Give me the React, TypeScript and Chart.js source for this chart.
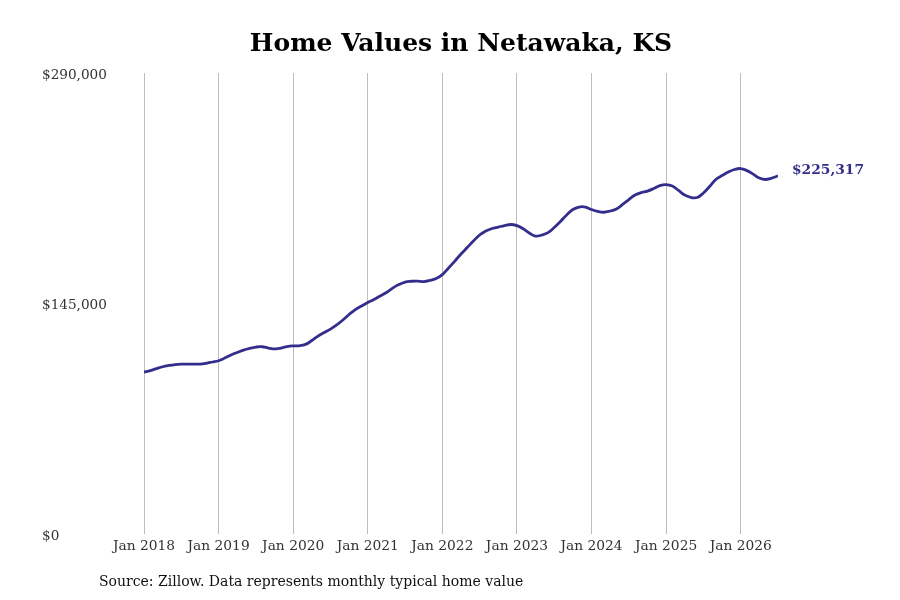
import React, { useEffect, useRef } from 'react';
import { Chart, registerables } from 'chart.js';

Chart.register(...registerables);

// monthly typical home value, Jan 2018 .. Jul 2026
const startYear = 2018;
const homeValues: number[] = [
  // 2018
  101900, 102800, 104000, 105200, 106000, 106600, 106900, 106900, 106900, 106900, 107400, 108200,
  // 2019
  109000, 110700, 112600, 114200, 115700, 116800, 117600, 117800, 117000, 116400, 117000, 117900,
  // 2020
  118300, 118400, 119300, 121700, 124500, 126700, 128900, 131500, 134600, 138100, 141200, 143400,
  // 2021
  145600, 147500, 149700, 151900, 154700, 156900, 158500, 159000, 159100, 158800, 159500, 160700,
  // 2022
  163200, 167300, 171700, 176100, 180200, 184300, 188100, 190600, 192200, 193100, 194000, 194700,
  // 2023
  194000, 192000, 189300, 187400, 188100, 189600, 192800, 196600, 200700, 204100, 205700, 205700,
  // 2024
  204100, 202900, 202400, 203200, 204400, 207300, 210400, 213200, 214800, 215700, 217300, 219200,
  // 2025
  219800, 218900, 216100, 213200, 211700, 211700, 214500, 218600, 223000, 225500, 227700, 229300,
  // 2026
  229900, 228600, 226400, 223900, 223000, 223900, 225317,
];
const yTicks: number[] = [0, 145000, 290000];

const lineColor = '#332e8c';
const serif = "'DejaVu Serif', serif";

const money = (v: number) => '$' + Math.round(v).toLocaleString('en-US');

// last value label + source note
const extrasPlugin = {
  id: 'extras',
  afterDatasetsDraw(chart: any) {
    const { ctx } = chart;
    const meta = chart.getDatasetMeta(0);
    const last = meta.data[meta.data.length - 1];
    ctx.save();
    ctx.font = `bold 13.8px ${serif}`;
    ctx.fillStyle = lineColor;
    ctx.textBaseline = 'middle';
    ctx.textAlign = 'left';
    ctx.fillText(money(homeValues[homeValues.length - 1]), last.x + 14, last.y - 5);
    ctx.font = `14px ${serif}`;
    ctx.fillStyle = '#111';
    ctx.fillText('Source: Zillow. Data represents monthly typical home value', 99, 582);
    ctx.restore();
  },
};

const App: React.FC = () => {
  const canvasRef = useRef<HTMLCanvasElement | null>(null);
  const chartRef = useRef<Chart | null>(null);

  useEffect(() => {
    const canvas = canvasRef.current;
    if (!canvas) return;
    if (chartRef.current) chartRef.current.destroy();

    chartRef.current = new Chart(canvas, {
      type: 'line',
      data: {
        datasets: [
          {
            data: homeValues.map((v, i) => ({ x: i, y: v })),
            borderColor: lineColor,
            borderWidth: 2.8,
            pointRadius: 0,
            tension: 0.4,
            fill: false,
          },
        ],
      },
      options: {
        animation: false,
        responsive: false,
        layout: { padding: { left: 42, right: 20, top: 0, bottom: 0 } },
        plugins: {
          legend: { display: false },
          tooltip: { enabled: false },
          title: {
            display: true,
            text: 'Home Values in Netawaka, KS',
            color: '#000',
            font: { family: serif, size: 25, weight: 'bold' },
            padding: { top: 29, bottom: 14 },
          },
        },
        scales: {
          x: {
            type: 'linear',
            min: 0,
            max: homeValues.length - 1,
            border: { display: false },
            grid: { color: '#bdbdbd', lineWidth: 1, drawTicks: false },
            ticks: {
              stepSize: 12,
              includeBounds: false,
              padding: 4,
              color: '#333',
              font: { family: serif, size: 13.8 },
              maxRotation: 0,
              callback: (v: any) => 'Jan ' + (startYear + Math.round(Number(v) / 12)),
            },
            afterFit: (s: any) => {
              s.height = 66;
            },
          },
          y: {
            min: yTicks[0],
            max: yTicks[yTicks.length - 1],
            border: { display: false },
            grid: { display: false },
            afterBuildTicks: (s: any) => {
              s.ticks = yTicks.map((v) => ({ value: v }));
            },
            ticks: {
              crossAlign: 'far',
              labelOffset: 2,
              color: '#333',
              font: { family: serif, size: 13.6 },
              callback: (v: any) => money(Number(v)),
            },
            afterFit: (s: any) => {
              s.width = 102;
            },
          },
          // spacer to keep room for the end label
          y2: {
            position: 'right',
            display: true,
            border: { display: false },
            grid: { display: false },
            ticks: { display: false },
            afterFit: (s: any) => {
              s.width = 102;
            },
          },
        },
      },
      plugins: [extrasPlugin],
    });

    return () => {
      if (chartRef.current) {
        chartRef.current.destroy();
        chartRef.current = null;
      }
    };
  }, []);

  return (
    <div style={{ position: 'fixed', left: 0, top: 0, width: 900, height: 600, background: '#fff' }}>
      <canvas ref={canvasRef} width={900} height={600} style={{ width: 900, height: 600 }} />
    </div>
  );
};

export default App;
